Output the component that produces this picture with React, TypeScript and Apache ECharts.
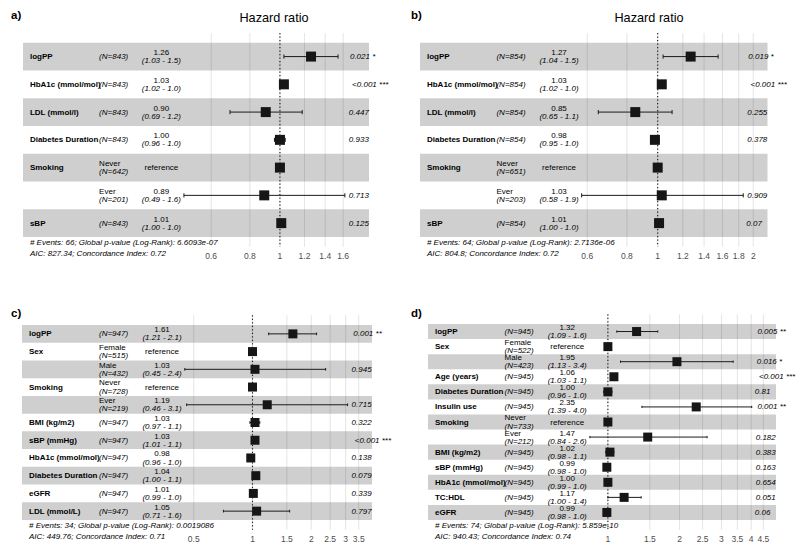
import React, { useEffect, useRef } from "react";
import * as echarts from "echarts";

const FONT = "'Liberation Sans', Arial, Helvetica, sans-serif";

// ---------- panel a ----------
const aVars = ["logPP", "HbA1c (mmol/mol)", "LDL (mmol/l)", "Diabetes Duration", "Smoking", "", "sBP"];
const aLevels = ["", "", "", "", "Never", "Ever", ""];
const aN = ["(N=843)", "(N=843)", "(N=843)", "(N=843)", "(N=642)", "(N=201)", "(N=843)"];
const aHR = [1.26, 1.03, 0.9, 1.0, 1, 0.89, 1.01];
const aLow = [1.03, 1.02, 0.69, 0.96, null, 0.49, 1.0];
const aHigh = [1.54, 1.04, 1.18, 1.04, null, 1.62, 1.02];
const aEst = ["1.26", "1.03", "0.90", "1.00", "reference", "0.89", "1.01"];
const aCI = ["(1.03 - 1.5)", "(1.02 - 1.0)", "(0.69 - 1.2)", "(0.96 - 1.0)", "", "(0.49 - 1.6)", "(1.00 - 1.0)"];
const aP = ["0.021 *", "<0.001 ***", "0.447", "0.933", "", "0.713", "0.125"];
const aTicks = [0.6, 0.8, 1, 1.2, 1.4, 1.6];
const aFooter = ["# Events: 66; Global p-value (Log-Rank): 6.6093e-07", "AIC: 827.34; Concordance Index: 0.72"];

// ---------- panel b ----------
const bVars = ["logPP", "HbA1c (mmol/mol)", "LDL (mmol/l)", "Diabetes Duration", "Smoking", "", "sBP"];
const bLevels = ["", "", "", "", "Never", "Ever", ""];
const bN = ["(N=854)", "(N=854)", "(N=854)", "(N=854)", "(N=651)", "(N=203)", "(N=854)"];
const bHR = [1.27, 1.03, 0.85, 0.98, 1, 1.03, 1.01];
const bLow = [1.04, 1.02, 0.65, 0.95, null, 0.576, 1.0];
const bHigh = [1.55, 1.04, 1.11, 1.01, null, 1.86, 1.02];
const bEst = ["1.27", "1.03", "0.85", "0.98", "reference", "1.03", "1.01"];
const bCI = ["(1.04 - 1.5)", "(1.02 - 1.0)", "(0.65 - 1.1)", "(0.95 - 1.0)", "", "(0.58 - 1.9)", "(1.00 - 1.0)"];
const bP = ["0.019 *", "<0.001 ***", "0.255", "0.378", "", "0.909", "0.07"];
const bTicks = [0.6, 0.8, 1, 1.2, 1.4, 1.6, 1.8, 2];
const bFooter = ["# Events: 64; Global p-value (Log-Rank): 2.7136e-06", "AIC: 804.8; Concordance Index: 0.72"];

// ---------- panel c ----------
const cVars = ["logPP", "Sex", "", "Smoking", "", "BMI (kg/m2)", "sBP (mmHg)", "HbA1c (mmol/mol)", "Diabetes Duration", "eGFR", "LDL (mmol/L)"];
const cLevels = ["", "Female", "Male", "Never", "Ever", "", "", "", "", "", ""];
const cN = ["(N=947)", "(N=515)", "(N=432)", "(N=728)", "(N=219)", "(N=947)", "(N=947)", "(N=947)", "(N=947)", "(N=947)", "(N=947)"];
const cHR = [1.61, 1, 1.03, 1, 1.19, 1.03, 1.03, 0.98, 1.04, 1.01, 1.05];
const cLow = [1.21, null, 0.45, null, 0.46, 0.97, 1.01, 0.96, 1.0, 0.99, 0.71];
const cHigh = [2.13, null, 2.37, null, 3.07, 1.09, 1.05, 1.01, 1.08, 1.03, 1.55];
const cEst = ["1.61", "reference", "1.03", "reference", "1.19", "1.03", "1.03", "0.98", "1.04", "1.01", "1.05"];
const cCI = ["(1.21 - 2.1)", "", "(0.45 - 2.4)", "", "(0.46 - 3.1)", "(0.97 - 1.1)", "(1.01 - 1.1)", "(0.96 - 1.0)", "(1.00 - 1.1)", "(0.99 - 1.0)", "(0.71 - 1.6)"];
const cP = ["0.001 **", "", "0.945", "", "0.715", "0.322", "<0.001 ***", "0.138", "0.079", "0.339", "0.797"];
const cTicks = [0.5, 1, 1.5, 2, 2.5, 3, 3.5];
const cFooter = ["# Events: 34; Global p-value (Log-Rank): 0.0019086", "AIC: 449.76; Concordance Index: 0.71"];

// ---------- panel d ----------
const dVars = ["logPP", "Sex", "", "Age (years)", "Diabetes Duration", "Insulin use", "Smoking", "", "BMI (kg/m2)", "sBP (mmHg)", "HbA1c (mmol/mol)", "TC:HDL", "eGFR"];
const dLevels = ["", "Female", "Male", "", "", "", "Never", "Ever", "", "", "", "", ""];
const dN = ["(N=945)", "(N=522)", "(N=423)", "(N=945)", "(N=945)", "(N=945)", "(N=733)", "(N=212)", "(N=945)", "(N=945)", "(N=945)", "(N=945)", "(N=945)"];
const dHR = [1.32, 1, 1.95, 1.06, 1.0, 2.35, 1, 1.47, 1.02, 0.99, 1.0, 1.17, 0.99];
const dLow = [1.09, null, 1.13, 1.03, 0.96, 1.39, null, 0.84, 0.98, 0.98, 0.99, 1.0, 0.98];
const dHigh = [1.62, null, 3.36, 1.09, 1.04, 4.02, null, 2.61, 1.06, 1.0, 1.01, 1.38, 1.0];
const dEst = ["1.32", "reference", "1.95", "1.06", "1.00", "2.35", "reference", "1.47", "1.02", "0.99", "1.00", "1.17", "0.99"];
const dCI = ["(1.09 - 1.6)", "", "(1.13 - 3.4)", "(1.03 - 1.1)", "(0.96 - 1.0)", "(1.39 - 4.0)", "", "(0.84 - 2.6)", "(0.98 - 1.1)", "(0.98 - 1.0)", "(0.99 - 1.0)", "(1.00 - 1.4)", "(0.98 - 1.0)"];
const dP = ["0.005 **", "", "0.016 *", "<0.001 ***", "0.81", "0.001 **", "", "0.182", "0.383", "0.163", "0.654", "0.051", "0.06"];
const dTicks = [1, 1.5, 2, 2.5, 3, 3.5, 4, 4.5];
const dFooter = ["# Events: 74; Global p-value (Log-Rank): 5.859e-10", "AIC: 940.43; Concordance Index: 0.74"];

const PANELS = [
  { tag: "a)", title: "Hazard ratio", vars: aVars, levels: aLevels, ns: aN, hr: aHR, low: aLow, high: aHigh, est: aEst, ci: aCI, p: aP, ticks: aTicks, footer: aFooter },
  { tag: "b)", title: "Hazard ratio", vars: bVars, levels: bLevels, ns: bN, hr: bHR, low: bLow, high: bHigh, est: bEst, ci: bCI, p: bP, ticks: bTicks, footer: bFooter },
  { tag: "c)", title: "", vars: cVars, levels: cLevels, ns: cN, hr: cHR, low: cLow, high: cHigh, est: cEst, ci: cCI, p: cP, ticks: cTicks, footer: cFooter },
  { tag: "d)", title: "", vars: dVars, levels: dLevels, ns: dN, hr: dHR, low: dLow, high: dHigh, est: dEst, ci: dCI, p: dP, ticks: dTicks, footer: dFooter },
];

// layout (pixels)
const LAYOUT = [
  { left: 23, width: 346, rowTop: 42.7, rowBottom: 237, sq: 10, titleX: 274, titleY: 18, tagX: 11, tagY: 15 },
  { left: 420, width: 347.5, rowTop: 42.7, rowBottom: 237, sq: 10, titleX: 649, titleY: 18, tagX: 411, tagY: 15 },
  { left: 22, width: 350, rowTop: 325, rowBottom: 520, sq: 9, titleX: 0, titleY: 0, tagX: 11, tagY: 313 },
  { left: 428, width: 348, rowTop: 324, rowBottom: 520, sq: 9, titleX: 0, titleY: 0, tagX: 411, tagY: 313 },
];

const FS = 8;
const LH = 8;
const OFF = 4.05;
const COLS = [0.02, 0.22, 0.4];

function buildOption() {
  const canvas = document.createElement("canvas");
  const ctx = canvas.getContext("2d") as CanvasRenderingContext2D;
  const measure = (t: string, font: string) => {
    ctx.font = font;
    return ctx.measureText(t).width;
  };

  const grid: any[] = [];
  const xAxis: any[] = [];
  const yAxis: any[] = [];
  const series: any[] = [];
  const graphic: any[] = [];

  PANELS.forEach((P, k) => {
    const L = LAYOUT[k];
    const n = P.vars.length;
    const rowH = (L.rowBottom - L.rowTop) / n;
    const pad = 0.05 * n;
    const lv = P.low.filter((v) => v != null).map((v) => Math.log(v as number));
    const hv = P.high.filter((v) => v != null).map((v) => Math.log(v as number));
    const b0 = Math.min(...lv);
    const b1 = Math.max(...hv);
    const d = b1 - b0;
    const r0 = b0 - d;
    const r1 = b1 + 0.15 * d;
    const wid = r1 - r0;
    const colX = COLS.map((c) => Math.exp(r0 + c * wid));
    const pX = Math.exp(b1);
    const yMin = 0.5 - pad;
    const yMax = n + 0.5 + pad;

    grid.push({ left: L.left, width: L.width, top: L.rowTop - pad * rowH, height: (n + 2 * pad) * rowH, containLabel: false });
    xAxis.push({ type: "log", logBase: 10, gridIndex: k, min: Math.exp(r0), max: Math.exp(r1), show: false });
    yAxis.push({ type: "value", gridIndex: k, min: yMin, max: yMax, inverse: true, show: false });

    const ax = { xAxisIndex: k, yAxisIndex: k, silent: true, animation: false };

    // vertical grid lines at breaks
    series.push({
      ...ax,
      type: "custom",
      z: 1,
      data: P.ticks.map((t) => [t, 1]),
      renderItem: (params: any, api: any) => {
        const cs = params.coordSys;
        const x = api.coord([api.value(0), 1])[0];
        return { type: "line", shape: { x1: x, y1: cs.y, x2: x, y2: cs.y + cs.height }, style: { stroke: "#dedede", lineWidth: 0.8 } };
      },
    });

    // shaded rows
    const shadeRows: number[][] = [];
    P.vars.forEach((_, i) => {
      if (i % 2 === 0) shadeRows.push([1, i + 1]);
    });
    series.push({
      ...ax,
      type: "custom",
      z: 2,
      data: shadeRows,
      renderItem: (params: any, api: any) => {
        const cs = params.coordSys;
        const r = api.value(1);
        const y1 = api.coord([1, r - 0.5])[1];
        const y2 = api.coord([1, r + 0.5])[1];
        return { type: "rect", shape: { x: cs.x, y: Math.min(y1, y2), width: cs.width, height: Math.abs(y2 - y1) }, style: { fill: "rgba(0,0,0,0.19)" } };
      },
    });

    // error bars
    const errData: number[][] = [];
    P.low.forEach((lo, i) => {
      if (lo != null && P.high[i] != null) errData.push([lo as number, P.high[i] as number, i + 1]);
    });
    series.push({
      ...ax,
      type: "custom",
      z: 4,
      encode: { x: [0, 1], y: 2 },
      data: errData,
      renderItem: (params: any, api: any) => {
        const r = api.value(2);
        const a = api.coord([api.value(0), r]);
        const b = api.coord([api.value(1), r]);
        const cap = 0.075 * rowH;
        const st = { stroke: "#1c1c1c", lineWidth: 1 };
        return {
          type: "group",
          children: [
            { type: "line", shape: { x1: a[0], y1: a[1], x2: b[0], y2: b[1] }, style: st },
            { type: "line", shape: { x1: a[0], y1: a[1] - cap, x2: a[0], y2: a[1] + cap }, style: st },
            { type: "line", shape: { x1: b[0], y1: b[1] - cap, x2: b[0], y2: b[1] + cap }, style: st },
          ],
        };
      },
    });

    // squares
    series.push({
      ...ax,
      type: "scatter",
      z: 5,
      symbol: "rect",
      symbolSize: L.sq,
      itemStyle: { color: "#161616", opacity: 1 },
      data: P.hr.map((v, i) => [v, i + 1]),
    });

    // dotted reference line at HR = 1
    series.push({
      ...ax,
      type: "custom",
      z: 6,
      data: [[1, 1]],
      renderItem: (params: any, api: any) => {
        const cs = params.coordSys;
        const x = api.coord([1, 1])[0];
        return { type: "line", shape: { x1: x, y1: cs.y, x2: x, y2: cs.y + cs.height }, style: { stroke: "#1a1a1a", lineWidth: 1.1, lineDash: [1.3, 2.2] } };
      },
    });

    // table text
    series.push({
      ...ax,
      type: "custom",
      z: 7,
      data: P.vars.map((_, i) => [1, i + 1]),
      renderItem: (params: any, api: any) => {
        const i = params.dataIndex;
        const r = i + 1;
        const y = api.coord([1, r])[1];
        const xv = api.coord([colX[0], r])[0];
        const xn = api.coord([colX[1], r])[0];
        const xc = api.coord([colX[2], r])[0];
        const xp = api.coord([pX, r])[0];
        const children: any[] = [];
        const t = (text: string, x: number, yy: number, o: any = {}) => {
          const align = o.align || "left";
          children.push({
            type: "text",
            x,
            y: yy,
            silent: true,
            style: {
              text,
              fill: "#000",
              fontSize: FS,
              lineHeight: LH,
              fontFamily: FONT,
              fontWeight: o.fontWeight || "normal",
              fontStyle: o.fontStyle || "normal",
              align,
              textAlign: align,
              verticalAlign: "middle",
              textVerticalAlign: "middle",
            },
          });
        };
        if (P.vars[i]) t(P.vars[i], xv, y, { fontWeight: "bold" });
        const lvl = P.levels[i];
        if (lvl) t(lvl, xn, y - OFF);
        t(P.ns[i], xn, lvl ? y + OFF : y, { fontStyle: "italic" });
        const isRef = P.est[i] === "reference";
        t(P.est[i], xc, isRef ? y : y - OFF, { align: "center" });
        if (P.ci[i]) t(P.ci[i], xc, y + OFF, { align: "center", fontStyle: "italic" });
        if (P.p[i]) {
          const w = measure(P.p[i], `italic ${FS}px ${FONT}`);
          t(P.p[i], xp + 0.2 * w, y, { fontStyle: "italic" });
        }
        return { type: "group", children };
      },
    });

    // footer
    series.push({
      ...ax,
      type: "custom",
      z: 7,
      data: [[1, n + 0.5]],
      renderItem: (params: any, api: any) => {
        const y = api.coord([1, n + 0.5])[1];
        const x = api.coord([colX[0], n + 0.5])[0];
        return {
          type: "group",
          children: P.footer.map((line, j) => ({
            type: "text",
            x,
            y: y + 5.5 + j * 11,
            silent: true,
            style: { text: line, fill: "#000", fontSize: FS, lineHeight: LH, fontFamily: FONT, fontStyle: "italic", align: "left", textAlign: "left", verticalAlign: "middle", textVerticalAlign: "middle" },
          })),
        };
      },
    });

    // tick labels
    series.push({
      ...ax,
      type: "custom",
      z: 7,
      data: P.ticks.map((tk) => [tk, yMax]),
      renderItem: (params: any, api: any) => {
        const tk = P.ticks[params.dataIndex];
        const pt = api.coord([tk, yMax]);
        return {
          type: "text",
          x: pt[0],
          y: pt[1] + 9,
          silent: true,
          style: { text: String(tk), fill: "#4d4d4d", fontSize: 8.5, fontFamily: FONT, align: "center", textAlign: "center", verticalAlign: "middle", textVerticalAlign: "middle" },
        };
      },
    });

    // panel tag and title
    graphic.push({
      type: "text",
      x: L.tagX,
      y: L.tagY,
      silent: true,
      style: { text: P.tag, fill: "#000", fontSize: 11.5, fontWeight: "bold", fontFamily: FONT, align: "left", textAlign: "left", verticalAlign: "middle", textVerticalAlign: "middle" },
    });
    if (P.title) {
      graphic.push({
        type: "text",
        x: L.titleX,
        y: L.titleY,
        silent: true,
        style: { text: P.title, fill: "#000", fontSize: 12.7, fontFamily: FONT, align: "center", textAlign: "center", verticalAlign: "middle", textVerticalAlign: "middle" },
      });
    }
  });

  return {
    animation: false,
    backgroundColor: "#ffffff",
    textStyle: { fontFamily: FONT },
    grid,
    xAxis,
    yAxis,
    series,
    graphic,
  };
}

export default function App() {
  const ref = useRef<HTMLDivElement>(null);
  useEffect(() => {
    document.body.style.margin = "0";
    const chart = echarts.init(ref.current as HTMLDivElement, null, { renderer: "svg" });
    chart.setOption(buildOption() as any);
    return () => chart.dispose();
  }, []);
  return <div ref={ref} style={{ width: 800, height: 550 }} />;
}
